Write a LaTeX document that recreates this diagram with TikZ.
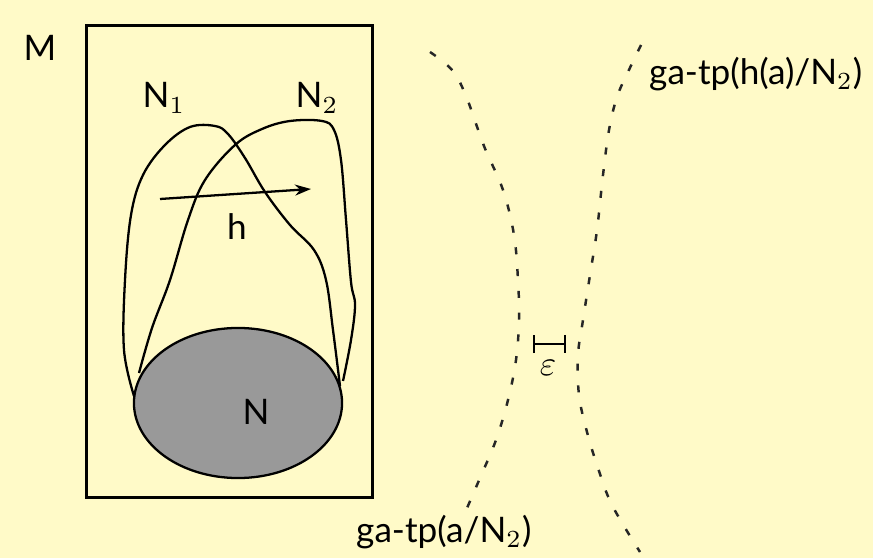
\documentclass[tikz,border=0pt]{standalone}
\usepackage{fontspec}
\setmainfont{Lato}
\usepackage{xcolor}
\usetikzlibrary{shapes.geometric, arrows.meta, calc}
\definecolor{paper}{HTML}{FFFAC8}
\definecolor{nucleus}{HTML}{999999}

\begin{document}
\begin{tikzpicture}[
    x=0.01cm, y=-0.01cm,
    % Styles for the sets
    frame/.style={draw=black, thick},
    region/.style={draw=black, line width=0.65pt, line join=round},
    core/.style={draw=black, line width=0.65pt, fill=nucleus},
    label/.style={font=\fontsize{10}{12}\selectfont, inner sep=1pt},
    % Styles for the types
    typeline/.style={draw=black!85, line width=0.7pt, dash pattern=on 2pt off 4.2pt},
    maparrow/.style={-{Stealth[length=1.6mm, width=1.1mm]}, line width=0.65pt},
    gap/.style={{Bar[width=1.8mm]}-{Bar[width=1.8mm]}, line width=0.65pt},
]

% ============================================================================
% CANVAS
% ============================================================================
\fill[paper] (0,0) rectangle (873,558);
\useasboundingbox (0,0) rectangle (873,558);

% ============================================================================
% MODEL M WITH N, N1, N2
% ============================================================================
\node[frame, minimum width=2.86cm, minimum height=4.72cm, anchor=north west] (model) at (85,24) {};
\node[label] (mlabel) at (40,48) {M};

% Core model N
\node[core, ellipse, minimum width=2.08cm, minimum height=1.5cm] (core) at (238,403) {};
\node[label] (nlabel) at (256,412) {N};

% N1
\draw[region] plot[smooth, tension=0.6] coordinates {
    (134,396) (124,350) (125,280) (131,215) (143,175) (165,145) (190,127)
    (215,126) (228,134) (245,158) (265,192) (290,225) (314,250) (326,280)
    (333,330) (340,386)};
\node[label] (n1label) at (164,98) {N$_1$};

% N2
\draw[region] plot[smooth, tension=0.6] coordinates {
    (139,373) (152,328) (170,280) (188,220) (205,180) (235,145) (262,129)
    (290,121) (322,121) (334,130) (341,160) (346,220) (351,282) (355,305)
    (351,340) (343,381)};
\node[label] (n2label) at (317,98) {N$_2$};

% Map h
\coordinate (hstart) at (160,199);
\coordinate (hend) at (311,189);
\draw[maparrow] (hstart) -- (hend);
\node[label] (hlabel) at (237,227) {h};

% ============================================================================
% TYPES OVER N2
% ============================================================================
\draw[typeline] plot[smooth, tension=0.6] coordinates {
    (430,52) (452,70) (466,96) (484,146) (503,190) (514,235) (518,280)
    (519,320) (516,360) (508,400) (496,440) (480,478) (464,515)};
\node[label, anchor=west] (tpa) at (352,532) {ga-tp(a/N$_2$)};

\draw[typeline] plot[smooth, tension=0.6] coordinates {
    (641,45) (628,72) (617,97) (609,130) (603,175) (597,230) (590,275)
    (583,320) (578,355) (579,395) (587,432) (598,468) (612,505) (640,552)};
\node[label, anchor=west] (tpha) at (645,74) {ga-tp(h(a)/N$_2$)};

% Distance epsilon
\coordinate (epsl) at (533,344);
\coordinate (epsr) at (566,344);
\draw[gap] (epsl) -- (epsr);
\node[label] (epslabel) at (548,368) {$\varepsilon$};

\end{tikzpicture}
\end{document}
